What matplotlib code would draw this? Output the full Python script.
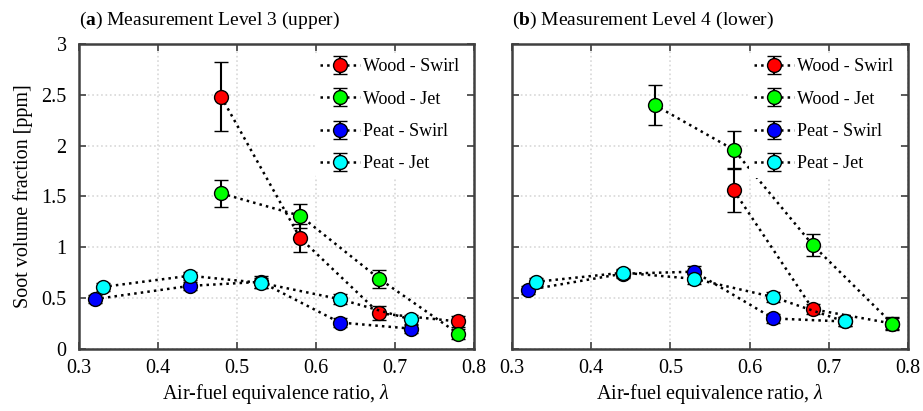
"""Soot volume fraction vs air-fuel equivalence ratio, two measurement levels."""

import matplotlib
matplotlib.use("Agg")
import matplotlib.pyplot as plt

plt.rcParams["font.family"] = ["Liberation Serif", "DejaVu Serif"]
plt.rcParams["mathtext.fontset"] = "custom"
plt.rcParams["mathtext.rm"] = "Liberation Serif"
plt.rcParams["mathtext.it"] = "Liberation Serif:italic"
plt.rcParams["mathtext.bf"] = "Liberation Serif:bold"

SERIES = ["Wood - Swirl", "Wood - Jet", "Peat - Swirl", "Peat - Jet"]
COLORS = ["#ff0000", "#00ff00", "#0000ff", "#00ffff"]

# Level 3 (upper)
L3_X = [
    [0.48, 0.58, 0.68, 0.78],
    [0.48, 0.58, 0.68, 0.78],
    [0.32, 0.44, 0.53, 0.63, 0.72],
    [0.33, 0.44, 0.53, 0.63, 0.72],
]
L3_Y = [
    [2.48, 1.09, 0.35, 0.27],
    [1.53, 1.31, 0.69, 0.15],
    [0.49, 0.62, 0.66, 0.26, 0.20],
    [0.61, 0.72, 0.65, 0.49, 0.29],
]
L3_ERR = [
    [0.34, 0.14, 0.07, 0.05],
    [0.13, 0.12, 0.09, 0.05],
    [0.04, 0.04, 0.06, 0.04, 0.04],
    [0.04, 0.04, 0.05, 0.05, 0.04],
]

# Level 4 (lower)
L4_X = [
    [0.58, 0.68, 0.78],
    [0.48, 0.58, 0.68, 0.78],
    [0.32, 0.44, 0.53, 0.63, 0.72],
    [0.33, 0.44, 0.53, 0.63, 0.72],
]
L4_Y = [
    [1.56, 0.39, 0.25],
    [2.40, 1.96, 1.02, 0.25],
    [0.58, 0.74, 0.76, 0.30, 0.27],
    [0.66, 0.75, 0.69, 0.51, 0.27],
]
L4_ERR = [
    [0.21, 0.05, 0.05],
    [0.20, 0.18, 0.11, 0.06],
    [0.04, 0.04, 0.06, 0.04, 0.04],
    [0.04, 0.04, 0.05, 0.05, 0.04],
]

PANELS = [
    ("a", "Measurement Level 3 (upper)", L3_X, L3_Y, L3_ERR),
    ("b", "Measurement Level 4 (lower)", L4_X, L4_Y, L4_ERR),
]

FS = 14.5

fig = plt.figure(figsize=(9.23, 4.11), dpi=100)
ax_pos = [[0.0856, 0.151, 0.428, 0.742], [0.5547, 0.151, 0.429, 0.742]]

for i, (tag, title, xs, ys, errs) in enumerate(PANELS):
    ax = fig.add_axes(ax_pos[i])
    for name, c, x, y, e in zip(SERIES, COLORS, xs, ys, errs):
        ax.errorbar(x, y, yerr=e, color="black", ls=":", lw=1.8,
                    elinewidth=1.5, capsize=5, capthick=1.5,
                    marker="o", ms=10, mfc=c, mec="black", mew=1.0,
                    label=name)
    ax.set_xlim(0.3, 0.8)
    ax.set_ylim(0, 3)
    ax.set_xticks([0.3, 0.4, 0.5, 0.6, 0.7, 0.8])
    ax.set_yticks([0, 0.5, 1, 1.5, 2, 2.5, 3])
    ax.set_yticklabels(["0", "0.5", "1", "1.5", "2", "2.5", "3"])
    ax.tick_params(direction="in", top=True, right=True, labelsize=FS,
                   length=5, width=1.2, color="#404040")
    ax.tick_params(axis="y", pad=9)
    ax.tick_params(axis="x", pad=7)
    ax.grid(color="#d8d8d8", linestyle=":", linewidth=1.2)
    for s in ax.spines.values():
        s.set_linewidth(1.8)
        s.set_color("#404040")
    if i == 1:
        ax.tick_params(labelleft=False)
    else:
        ax.set_ylabel("Soot volume fraction [ppm]", fontsize=FS, labelpad=6)
    ax.set_xlabel(r"Air-fuel equivalence ratio, $\lambda$", fontsize=FS, labelpad=3)
    ax.set_title(r"($\mathbf{%s}$) %s" % (tag, title), loc="left", fontsize=14, pad=14)
    leg = ax.legend(loc="upper right", fontsize=13, frameon=True,
                    framealpha=1.0, edgecolor="none", handlelength=2.2,
                    handletextpad=0.2, borderaxespad=0.5, borderpad=0.3,
                    labelspacing=0.85)

fig.savefig("out.png", dpi=100)
